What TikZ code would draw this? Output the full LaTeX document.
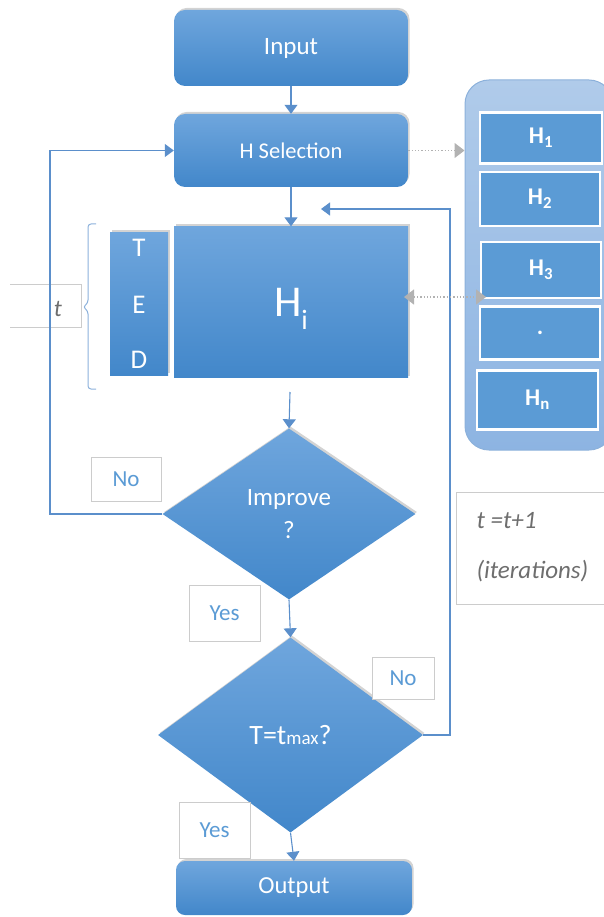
\documentclass[tikz,border=0pt]{standalone}
\usepackage{fontspec}
\setmainfont{Carlito}
\usetikzlibrary{shapes.geometric,shadows,arrows.meta}
\definecolor{btop}{HTML}{6FA6DD}
\definecolor{bbot}{HTML}{4287CA}
\definecolor{lineb}{HTML}{5B8FCB}
\definecolor{hfill}{HTML}{5B9BD5}
\definecolor{ptop}{HTML}{B0CBEA}
\definecolor{pbot}{HTML}{8DB4E2}
\definecolor{lblb}{HTML}{5B9BD5}
\definecolor{grtxt}{HTML}{6E6E6E}
\tikzset{
  bluebox/.style={draw=none,top color=btop,bottom color=bbot,text=white,inner sep=0pt,
     drop shadow={opacity=0.35,shadow xshift=1.5pt,shadow yshift=2pt}},
  roundbox/.style={bluebox,rounded corners=11pt},
  hbox/.style={draw=white,line width=2.2pt,fill=hfill,text=white,inner sep=0pt,font=\bfseries\fontsize{24}{24}\selectfont},
  lbl/.style={draw=black!20,line width=0.6pt,fill=white,text=lblb,inner sep=0pt,font=\fontsize{23}{23}\selectfont},
  conn/.style={draw=lineb,line width=1.1pt,-{Triangle[length=9pt,width=13pt]}},
  dotconn/.style={draw=black!30,line width=1.3pt,dotted,-{Triangle[length=10pt,width=15pt]}},
}
\begin{document}
\begin{tikzpicture}[x=1pt,y=-1pt]
\useasboundingbox (0,0) rectangle (604,917);
% right panel
\begin{scope}
\clip (0,0) rectangle (604,917);
\node[draw=lineb!70,line width=1pt,top color=ptop,bottom color=pbot,rounded corners=24pt,minimum width=148pt,minimum height=370pt,inner sep=0pt] (panel) at (539,265) {};
\end{scope}
\node[hbox,minimum width=122pt,minimum height=51pt] (h1) at (541,138) {H\textsubscript{1}};
\node[hbox,minimum width=120pt,minimum height=54pt] (h2) at (540,199) {H\textsubscript{2}};
\node[hbox,minimum width=120pt,minimum height=56pt] (h3) at (541,270) {H\textsubscript{3}};
\node[hbox,minimum width=120pt,minimum height=53pt] (hd) at (540,333) {.};
\node[hbox,minimum width=121pt,minimum height=59pt] (hn) at (537.5,400) {H\textsubscript{n}};
% main boxes
\node[roundbox,minimum width=234pt,minimum height=76pt,font=\fontsize{25}{25}\selectfont] (input) at (291,48) {Input};
\node[roundbox,minimum width=234pt,minimum height=73pt,font=\fontsize{22.5}{22.5}\selectfont] (hsel) at (291,150.5) {H Selection};
\node[bluebox,minimum width=58pt,minimum height=143pt] (ted) at (139,303.5) {};
\node[text=white,font=\fontsize{27}{27}\selectfont] (tT) at (139,248) {T};
\node[text=white,font=\fontsize{27}{27}\selectfont] (tE) at (139,305) {E};
\node[text=white,font=\fontsize{27}{27}\selectfont] (tD) at (139,360) {D};
\node[bluebox,minimum width=234pt,minimum height=151pt,font=\fontsize{44}{44}\selectfont] (hi) at (291,302) {H\smash{\raisebox{-0.3em}{\fontsize{28}{28}\selectfont i}}};
\node[diamond,bluebox,minimum width=253pt,minimum height=171pt,aspect=1.48,font=\fontsize{25}{33}\selectfont,align=center] (imp) at (289,514) {Improve\\?};
\node[diamond,bluebox,minimum width=265pt,minimum height=195pt,aspect=1.36,font=\fontsize{28}{28}\selectfont] (tmax) at (290.5,735) {T=t{\fontsize{19}{19}\selectfont max}?};
\node[roundbox,minimum width=236pt,minimum height=54pt,font=\fontsize{24.5}{24.5}\selectfont,rounded corners=9pt] (out) at (294,888) {Output};
% label boxes
\node[lbl,minimum width=70pt,minimum height=44pt] (no1) at (126,479) {No};
\node[lbl,minimum width=71pt,minimum height=56pt] (yes1) at (224.5,613) {Yes};
\node[lbl,minimum width=62pt,minimum height=42pt] (no2) at (403,678) {No};
\node[lbl,minimum width=71pt,minimum height=56pt] (yes2) at (214.5,830) {Yes};
\node[draw=black!20,line width=0.6pt,minimum width=150pt,minimum height=112pt,inner sep=0pt] (iter) at (531,548) {};
\node[anchor=west,text=grtxt,font=\itshape\fontsize{25}{25}\selectfont] (iter1) at (473,521) {t =t+1};
\node[anchor=west,text=grtxt,font=\itshape\fontsize{25}{25}\selectfont] (iter2) at (473,571) {(iterations)};
% t box (open on the left)
\coordinate (tb1) at (10,284);
\coordinate (tb2) at (81,284);
\coordinate (tb3) at (81,327);
\coordinate (tb4) at (10,327);
\draw[black!20,line width=0.6pt] (tb1) -- (tb2) -- (tb3) -- (tb4);
\node[text=grtxt,font=\itshape\fontsize{24}{24}\selectfont] (tlab) at (58,309) {t};
% brace
\coordinate (br1) at (96,224);
\coordinate (br2) at (96,389);
\draw[lineb!70,line width=1pt,rounded corners=3pt] (br1) -- (88,224) -- (88,303) -- (83,307) -- (88,311) -- (88,389) -- (br2);
% connectors
\draw[conn] (input.south) -- (hsel.north);
\draw[conn] (hsel.south) -- (hi.north);
\coordinate (hiout) at (290,392);
\draw[conn] (hiout) -- (imp.north);
\draw[conn] (imp.south) -- (tmax.north);
\draw[conn] (tmax.south) -- (out.north);
\coordinate (lx) at (50,0);
\draw[conn] (imp.west) -- (imp.west -| lx) |- (hsel.west);
\coordinate (rarr) at (321,209);
\coordinate (rcorner) at (450,735);
\draw[conn] (tmax.east) -- (rcorner) |- (rarr);
\draw[dotconn] (hsel.east) -- (panel.west |- hsel.east);
\coordinate (hir) at (404,297);
\coordinate (panr) at (486,297);
\draw[dotconn,{Triangle[length=10pt,width=15pt]}-{Triangle[length=10pt,width=15pt]}] (hir) -- (panr);
\end{tikzpicture}
\end{document}
